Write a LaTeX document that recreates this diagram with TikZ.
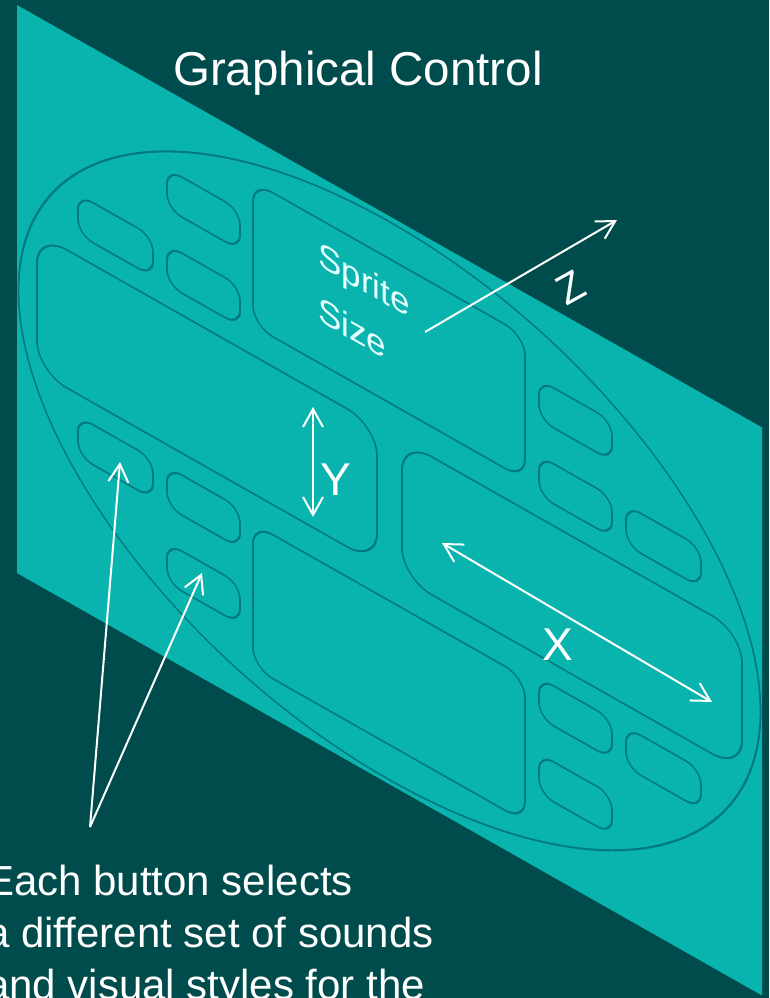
\documentclass[tikz,border=0pt]{standalone}
\usepackage{fontspec}
\setmainfont{Liberation Sans}
\usetikzlibrary{arrows.meta}
\definecolor{deepteal}{RGB}{0, 75, 75}
\definecolor{panelteal}{RGB}{10, 180, 174}
\definecolor{edgeteal}{RGB}{0, 122, 130}
\definecolor{labelwhite}{RGB}{232, 255, 255}

\begin{document}
\begin{tikzpicture}[x=1pt, y=-1pt,
  button/.style={draw=edgeteal, line width=1.8pt, rounded corners=15pt},
  bigpad/.style={draw=edgeteal, line width=1.8pt, rounded corners=20pt},
  endpad/.style={draw=edgeteal, line width=1.8pt, rounded corners=30pt},
  axisarrow/.style={draw=white, line width=2pt},
  barb/.tip={Straight Barb[length=18pt, width=20pt, line width=2pt]},
  axislabel/.style={text=white, inner sep=0pt, font=\fontsize{46}{55}\selectfont}]
  \useasboundingbox (0,0) rectangle (769,998);
  \clip (0,0) rectangle (769,998);
  \fill[deepteal] (0,0) rectangle (769,998);

  % Tilted control surface (drawn flat, then sheared)
  \begin{scope}[transform canvas={cm={1,-0.567,0,1,(0,0)}}]
    \fill[panelteal] (17,-4.6) rectangle (762,563.4);
    \draw[draw=edgeteal, line width=1.8pt] (389.5,280) ellipse [x radius=371, y radius=279];

    % Large pads
    \draw[bigpad] (253,38) rectangle (525,182);
    \draw[bigpad] (253,380) rectangle (525,524);
    \draw[endpad] (37,212) rectangle (377,350);
    \draw[endpad] (402,212) rectangle (742,350);

    % Small buttons, left side
    \draw[button] (78,150) rectangle (153,190);
    \draw[button] (167,74) rectangle (240,114);
    \draw[button] (167,150) rectangle (240,190);
    \draw[button] (78,372) rectangle (153,412);
    \draw[button] (167,372) rectangle (240,412);
    \draw[button] (167,448) rectangle (240,488);

    % Small buttons, right side
    \draw[button] (539,74) rectangle (612,114);
    \draw[button] (539,150) rectangle (612,190);
    \draw[button] (626,150) rectangle (701,190);
    \draw[button] (539,372) rectangle (612,412);
    \draw[button] (539,448) rectangle (612,488);
    \draw[button] (626,372) rectangle (701,412);

    \node[anchor=north west, align=left, inner sep=0pt, text=labelwhite,
      font=\fontsize{35}{55}\selectfont] (sprite) at (318,60) {Sprite\\Size};
  \end{scope}

  % Title
  \node[anchor=base, inner sep=0pt, text=white, font=\fontsize{47.5}{57}\selectfont] (title) at (358,85) {Graphical Control};

  % Axes
  \coordinate (ytop) at (313,407);
  \coordinate (ybot) at (313,517);
  \draw[axisarrow, barb-barb] (ybot) -- (ytop);
  \node[axislabel, anchor=base west] (ylabel) at (320,495) {Y};

  \coordinate (xleft) at (442,543);
  \coordinate (xright) at (712,702);
  \draw[axisarrow, barb-barb] (xleft) -- (xright);
  \node[axislabel, anchor=base west] (xlabel) at (542,660) {X};

  \coordinate (zfrom) at (425,332);
  \coordinate (zto) at (617,220);
  \draw[axisarrow, -barb] (zfrom) -- (zto);
  \node[axislabel, rotate=29, font=\fontsize{42}{50}\selectfont] (zlabel) at (571,288) {Z};

  % Note on the buttons
  \node[anchor=base west, align=left, inner sep=0pt, text=white,
    font=\fontsize{42}{52}\selectfont] (note) at (-14,999)
    {Each button selects\\a different set of sounds\\and visual styles for the};
  \coordinate (notetip) at (90,827);
  \coordinate (btnleft) at (120,462);
  \coordinate (btnlow) at (202,573);
  \draw[axisarrow, -barb] (notetip) -- (btnleft);
  \draw[axisarrow, -barb] (notetip) -- (btnlow);
\end{tikzpicture}
\end{document}
